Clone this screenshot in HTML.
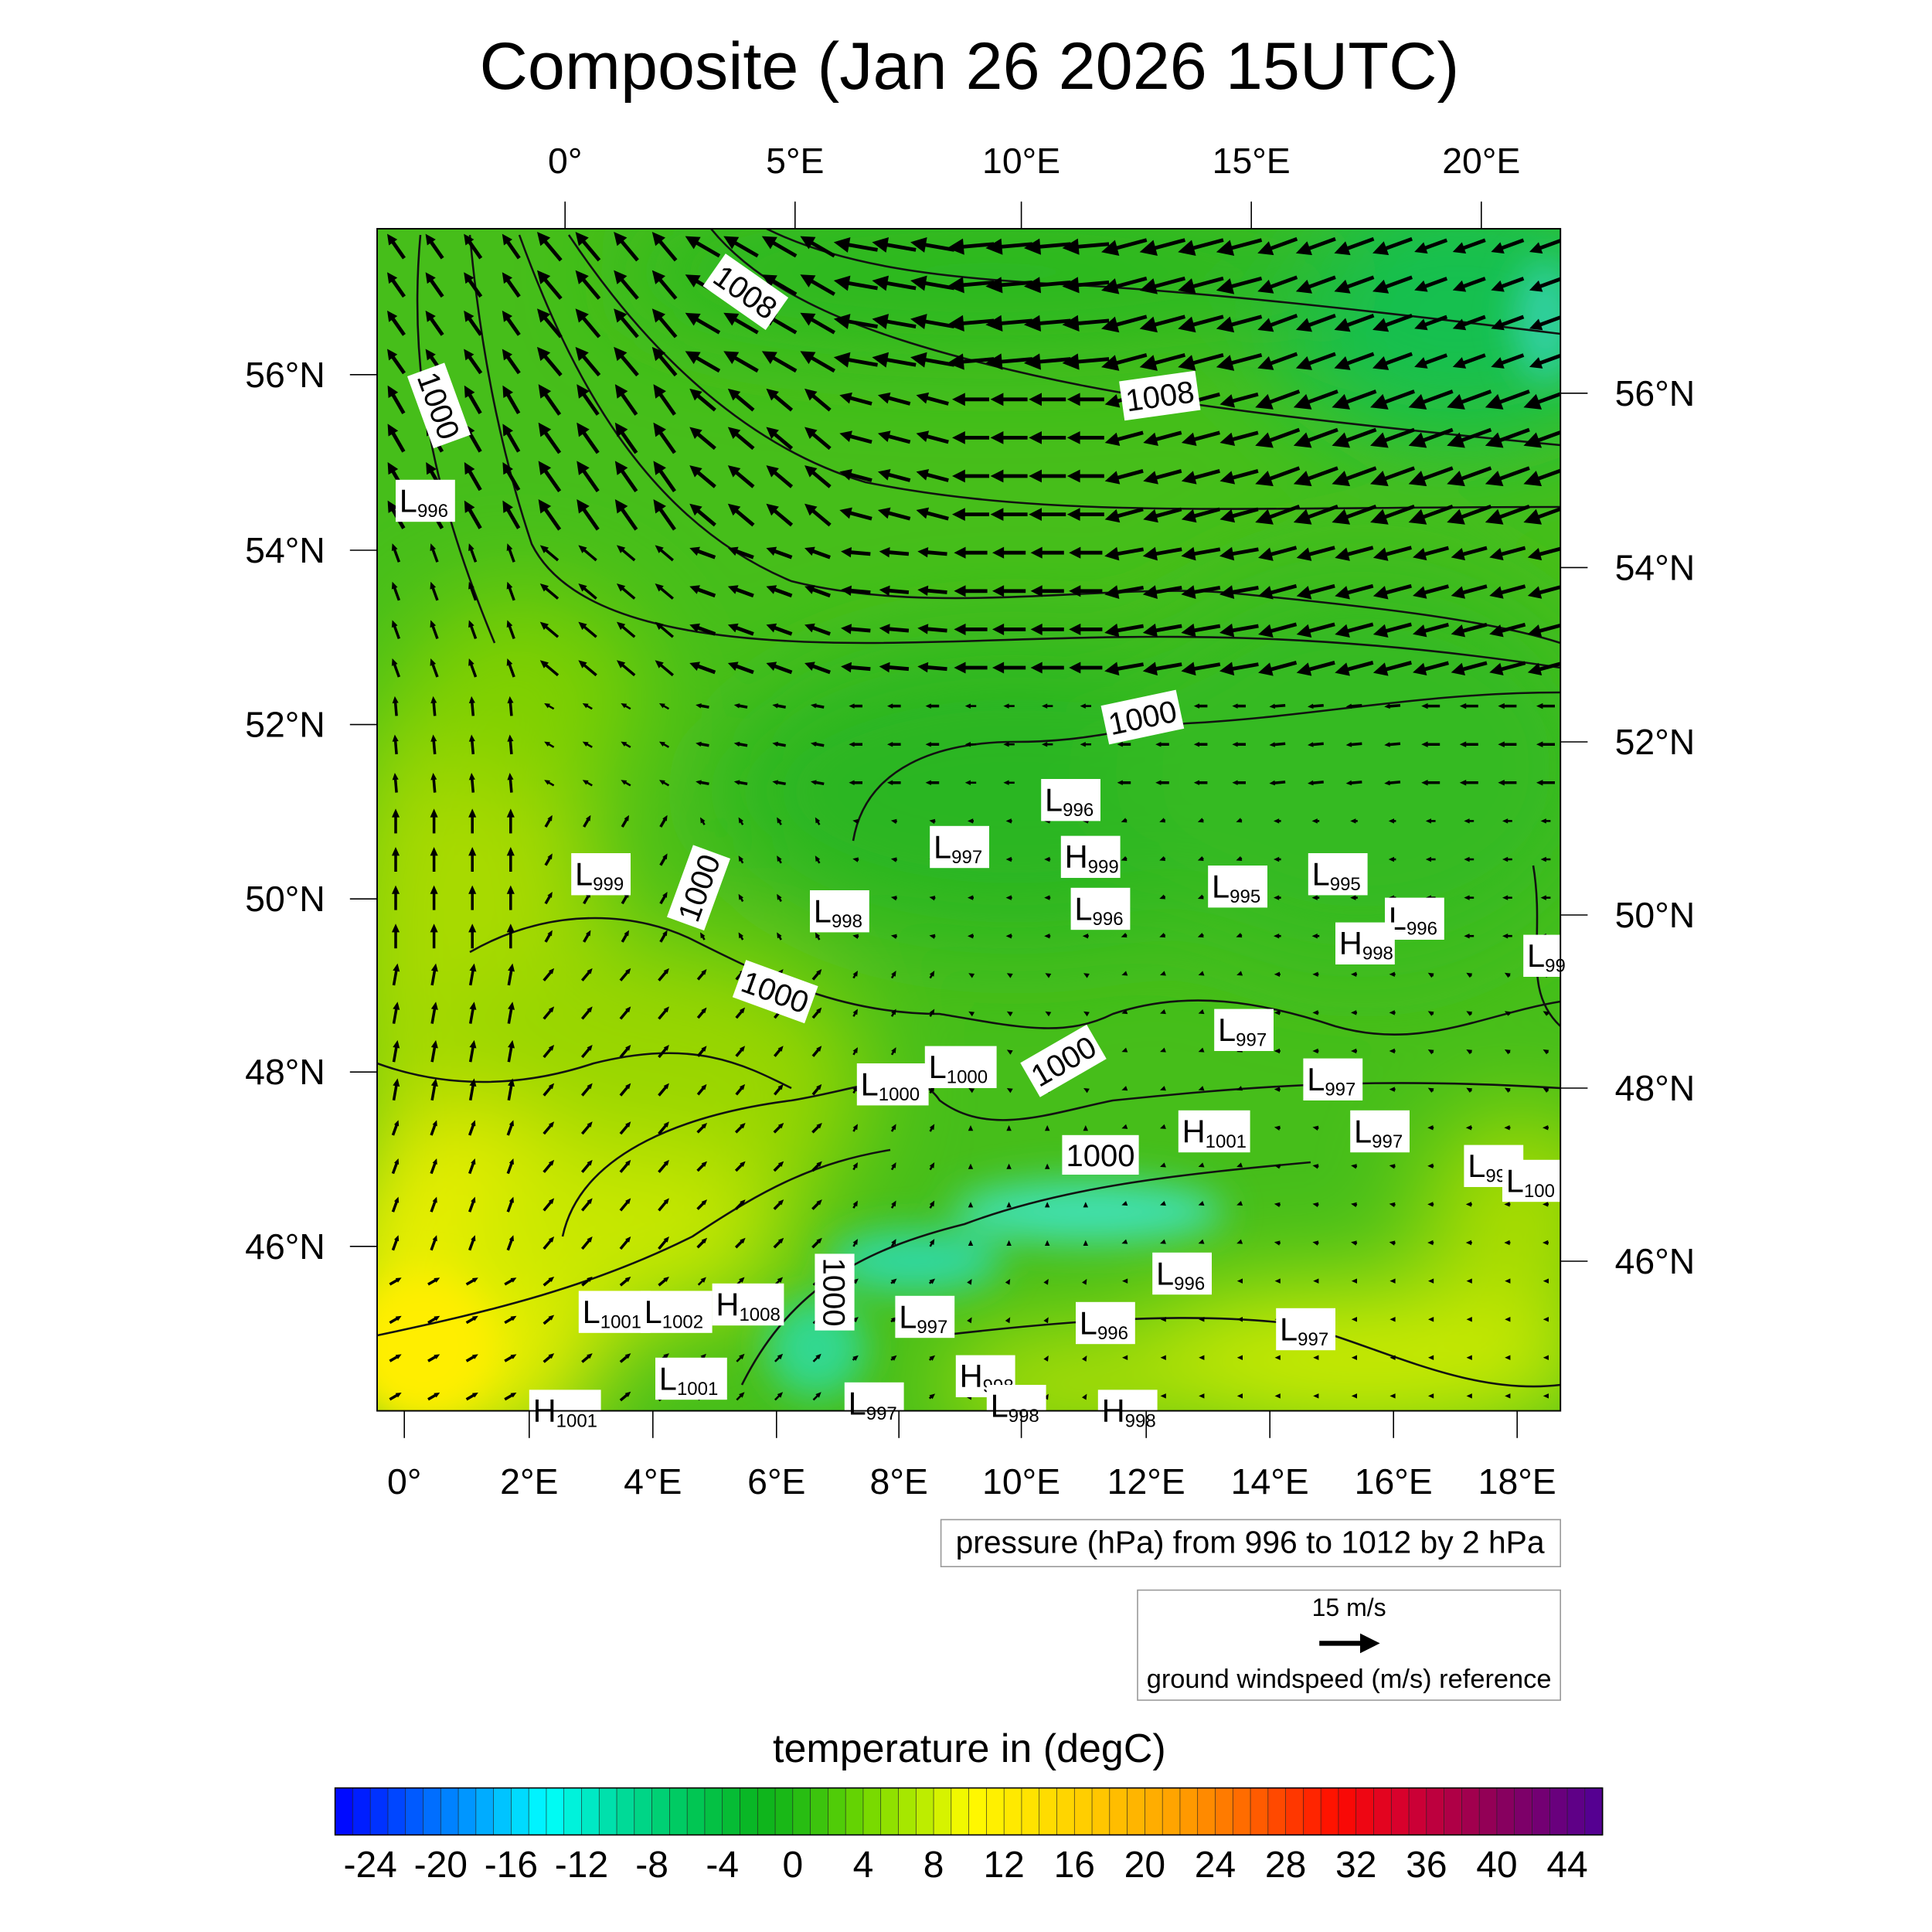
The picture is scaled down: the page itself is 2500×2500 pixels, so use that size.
<!DOCTYPE html>
<html><head><meta charset="utf-8"><style>
html,body{margin:0;padding:0;background:#fff;}
svg{display:block;font-family:"Liberation Sans",sans-serif;}
</style></head><body>
<svg id="fig" width="2500" height="2500" viewBox="0 0 1562.5 1562.5" xmlns="http://www.w3.org/2000/svg">
<defs>
<filter id="blur" x="-50%" y="-50%" width="200%" height="200%"><feGaussianBlur stdDeviation="40"/></filter>
<filter id="blur2" x="-50%" y="-50%" width="200%" height="200%"><feGaussianBlur stdDeviation="15"/></filter>
<clipPath id="plotclip"><rect x="305" y="185" width="957" height="956"/></clipPath>
</defs>
<text x="784" y="72" font-size="54" text-anchor="middle">Composite (Jan 26 2026 15UTC)</text>

<g clip-path="url(#plotclip)">
<rect x="305" y="185" width="957" height="956" fill="#46be1a"/>
<g filter="url(#blur)">
<ellipse cx="1180" cy="250" rx="160" ry="110" fill="#14c050"/>
<ellipse cx="800" cy="220" rx="300" ry="60" fill="#2cb824"/>
<ellipse cx="820" cy="640" rx="240" ry="120" fill="#2cb622"/>
<ellipse cx="1100" cy="620" rx="200" ry="160" fill="#34ba20"/>
<ellipse cx="380" cy="780" rx="110" ry="260" fill="#a8da00"/>
<ellipse cx="420" cy="560" rx="100" ry="80" fill="#80d000"/>
<ellipse cx="520" cy="880" rx="180" ry="120" fill="#98d600"/>
<ellipse cx="380" cy="1040" rx="120" ry="140" fill="#f0f000"/>
<ellipse cx="500" cy="1000" rx="140" ry="70" fill="#c8e800"/>
<ellipse cx="1100" cy="1100" rx="200" ry="60" fill="#d0ec00"/>
<ellipse cx="860" cy="1120" rx="100" ry="40" fill="#c0e400"/>
<ellipse cx="1230" cy="980" rx="80" ry="80" fill="#a8dc00"/>
</g>
<g filter="url(#blur2)">
<ellipse cx="340" cy="1090" rx="60" ry="60" fill="#ffee00"/>
<ellipse cx="880" cy="980" rx="110" ry="25" fill="#40e0b0"/>
<ellipse cx="740" cy="1020" rx="70" ry="25" fill="#30d8a0"/>
<ellipse cx="660" cy="1090" rx="40" ry="40" fill="#30d890"/>
<ellipse cx="1250" cy="260" rx="25" ry="50" fill="#30d0a0"/>
</g>
</g>

<g id="contours" clip-path="url(#plotclip)" fill="none" stroke="#111" stroke-width="1.6">
<path d="M575,185 C620,240 700,270 800,295 C900,320 1000,335 1262,360"/>
<path d="M620,185 C680,215 760,225 860,230 C960,235 1100,250 1262,270"/>
<path d="M420,190 C460,300 520,420 640,470 C760,500 900,470 1000,480 C1100,490 1200,500 1262,520"/>
<path d="M460,190 C520,280 600,360 700,390 C850,420 1000,410 1262,410"/>
<path d="M380,190 C390,300 410,380 430,440 C460,500 560,520 700,520 C850,520 1000,500 1262,540"/>
<path d="M340,190 C330,300 350,400 400,520"/>
<path d="M690,680 C700,620 760,600 820,600 C880,600 900,590 960,585 C1060,580 1150,560 1262,560"/>
<path d="M380,770 C450,730 520,740 560,760 C620,790 680,820 760,820 C820,830 860,840 900,820 C960,800 1020,810 1080,830 C1150,850 1200,820 1262,810"/>
<path d="M305,860 C360,880 420,880 480,860 C560,840 600,860 640,880"/>
<path d="M455,1000 C470,930 560,900 640,890 C700,880 740,860 760,890 C800,920 850,900 900,890 C1000,880 1100,870 1262,880"/>
<path d="M305,1080 C400,1060 480,1040 560,1000 C620,960 660,940 720,930"/>
<path d="M600,1120 C640,1040 700,1010 780,990 C860,960 950,950 1060,940"/>
<path d="M760,1080 C850,1070 950,1060 1040,1070 C1100,1080 1180,1130 1262,1120"/>
<path d="M1240,700 C1250,760 1230,800 1262,830"/>
</g>

<g id="arrows" clip-path="url(#plotclip)"></g>
<g id="hl"></g>
<g id="clabels"></g>

<rect x="305" y="185" width="957" height="956" fill="none" stroke="#000" stroke-width="1.2"/>
<g id="axes"></g>

<rect x="761" y="1229" width="501" height="38" fill="#fff" stroke="#999"/>
<text x="1011" y="1256" font-size="25.5" text-anchor="middle">pressure (hPa) from 996 to 1012 by 2 hPa</text>
<rect x="920" y="1286" width="342" height="89" fill="#fff" stroke="#999"/>
<text x="1091" y="1307" font-size="20" text-anchor="middle">15 m/s</text>
<line x1="1067" y1="1329" x2="1106" y2="1329" stroke="#000" stroke-width="4"/>
<path d="M1100,1321 L1116,1329 L1100,1337 z" fill="#000"/>
<text x="1091" y="1365" font-size="21.5" text-anchor="middle">ground windspeed (m/s) reference</text>

<text x="784" y="1425" font-size="32.5" text-anchor="middle">temperature in (degC)</text>
<g id="cbar"></g>
</svg>
<script>
const NS="http://www.w3.org/2000/svg";
function mk(tag,attrs,parent){const e=document.createElementNS(NS,tag);for(const k in attrs)e.setAttribute(k,attrs[k]);parent.appendChild(e);return e;}

// Wind field (coarse 8x8 cells): arrow angle (deg, 0=east, ccw) and length (px)
const windAngle=[
[125,130,150,170,185,195,200,200],
[120,125,140,165,180,195,200,200],
[110,140,160,175,180,190,195,195],
[95,150,170,180,180,180,185,180],
[90,60,120,170,180,200,180,180],
[80,50,50,60,150,200,180,150],
[70,50,45,60,90,200,170,180],
[30,40,45,40,60,180,180,180]];
const windLen=[
[24,30,32,36,38,38,34,28],
[26,30,27,27,30,32,38,38],
[16,19,22,24,27,32,32,30],
[16,9,11,11,9,11,13,15],
[20,11,7,5,5,5,6,8],
[18,13,11,7,4,4,5,5],
[13,13,11,7,4,4,5,5],
[11,11,9,6,4,3,4,4]];
const X0=305,Y0=185,W=957,H=956;
const ag=document.getElementById('arrows');
const step=31;
for(let y=Y0+14;y<Y0+H;y+=step){for(let x=X0+15;x<X0+W;x+=step){
 const r=Math.min(7,Math.floor((y-Y0)/(H/8))),c=Math.min(7,Math.floor((x-X0)/(W/8)));
 const a=windAngle[r][c]*Math.PI/180,L=windLen[r][c];
 const dx=Math.cos(a)*L/2,dy=-Math.sin(a)*L/2;
 const sw=L>20?3:(L>10?2.2:1.6);
 const hs=Math.max(4.5,L*0.35),ux=Math.cos(a),uy=-Math.sin(a);
 const tx=x+dx,ty=y+dy,bx=tx-ux*hs,by=ty-uy*hs;
 const ln=mk('line',{x1:x-dx,y1:y-dy,x2:bx+ux*1,y2:by+uy*1,stroke:'#000','stroke-width':sw},ag);
 
 
 const hw=hs*(L>20?0.5:0.45);
 mk('path',{d:`M${tx},${ty} L${bx-uy*hw},${by+ux*hw} L${bx+uy*hw},${by-ux*hw} z`,fill:'#000'},ag);
}}

// Pressure centers
const hlType=['L','L','L','L','H','L','L','L','L','L','H','L','L','L','L','L','H','L','L','L','L','L','L','L','L','L','H','L','H','L','H','L','H'];
const hlVal=['996','999','997','996','999','998','996','995','995','996','998','99','997','997','1000','1000','1001','997','999','100','996','997','996','997','1001','1002','1008','1001','998','997','1001','998','998'];
const hlX=[320,462,752,842,858,655,866,977,1058,1120,1080,1232,982,1054,693,748,953,1092,1184,1215,932,724,870,1032,468,518,576,530,773,683,428,798,888];
const hlY=[388,690,668,630,676,720,718,700,690,726,746,756,816,856,860,846,898,898,926,938,1013,1048,1053,1058,1044,1044,1038,1098,1096,1118,1124,1120,1124];
const hg=document.getElementById('hl');
for(let i=0;i<hlType.length;i++){
 const w=hlVal[i].length>3?58:48;
 const g=mk('g',{},hg);
 
 
 mk('rect',{x:hlX[i],y:hlY[i],width:w,height:34,fill:'#fff'},g);
 const t=mk('text',{x:hlX[i]+3,y:hlY[i]+26,'font-size':26},g);
 t.textContent=hlType[i];
 const s=mk('tspan',{'font-size':15,dy:4},t);s.textContent=hlVal[i];
}

// Contour labels
const clText=['1008','1000','1008','1000','1000','1000','1000','1000','1000'];
const clX=[603,355,938,924,565,627,860,890,675];
const clY=[236,328,320,580,718,802,858,934,1045];
const clRot=[35,70,-8,-12,-70,20,-30,0,90];
const cg=document.getElementById('clabels');
for(let i=0;i<clText.length;i++){
 const g=mk('g',{transform:`translate(${clX[i]},${clY[i]}) rotate(${clRot[i]})`},cg);
 
 
 mk('rect',{x:-31,y:-16,width:62,height:32,fill:'#fff'},g);
 const t=mk('text',{x:0,y:9,'font-size':25,'text-anchor':'middle'},g);t.textContent=clText[i];
}

// Axes
const ax=document.getElementById('axes');
const leftLab=['56°N','54°N','52°N','50°N','48°N','46°N'];
const leftY=[303,445,586,727,867,1008];
const rightY=[318,459,600,740,880,1020];
const topLab=['0°','5°E','10°E','15°E','20°E'];
const topX=[457,643,826,1012,1198];
const botLab=['0°','2°E','4°E','6°E','8°E','10°E','12°E','14°E','16°E','18°E'];
const botX=[327,428,528,628,727,826,927,1027,1127,1227];
function lab(txt,x,y,anchor,name){const t=mk('text',{x:x,y:y,'font-size':29,'text-anchor':anchor},ax);t.textContent=txt;}
leftLab.forEach((l,i)=>{mk('line',{x1:283,y1:leftY[i],x2:305,y2:leftY[i],stroke:'#000'},ax);lab(l,263,leftY[i]+10,'end','left-lat-label');
 mk('line',{x1:1262,y1:rightY[i],x2:1284,y2:rightY[i],stroke:'#000'},ax);lab(l,1306,rightY[i]+10,'start','right-lat-label');});
topLab.forEach((l,i)=>{mk('line',{x1:topX[i],y1:163,x2:topX[i],y2:185,stroke:'#000'},ax);lab(l,topX[i],140,'middle','top-lon-label');});
botLab.forEach((l,i)=>{mk('line',{x1:botX[i],y1:1141,x2:botX[i],y2:1163,stroke:'#000'},ax);lab(l,botX[i],1208,'middle','bottom-lon-label');});

// Colorbar
const cbStops=[[-26,[0,0,255]],[-22,[0,80,255]],[-18,[0,160,255]],[-14,[0,255,255]],[-10,[0,220,160]],[-6,[0,200,90]],[-2,[10,180,30]],[0,[30,185,20]],[4,[110,215,0]],[8,[200,240,0]],[10,[255,250,0]],[16,[255,210,0]],[22,[255,160,0]],[26,[255,100,0]],[31,[255,10,0]],[35,[210,0,50]],[40,[140,0,90]],[46,[80,0,150]]];
const cbTicks=[-24,-20,-16,-12,-8,-4,0,4,8,12,16,20,24,28,32,36,40,44];
const cbMin=-26,cbMax=46;
const cb=document.getElementById('cbar');
const CX0=271,CX1=1296,CY=1446,CH=38;
const sx=v=>CX0+(v-cbMin)/(cbMax-cbMin)*(CX1-CX0);
function col(v){for(let i=0;i<cbStops.length-1;i++){const[a,ca]=cbStops[i],[b,cb2]=cbStops[i+1];if(v>=a&&v<=b){const f=(v-a)/(b-a);return`rgb(${ca.map((c,k)=>Math.round(c+(cb2[k]-c)*f)).join(',')})`;}}return'rgb(80,0,150)';}
for(let v=cbMin;v<cbMax;v++){const r=mk('rect',{x:sx(v),y:CY,width:sx(v+1)-sx(v)+0.3,height:CH,fill:col(v+0.5),stroke:'#222','stroke-width':0.4},cb);
 
 }
mk('rect',{x:CX0,y:CY,width:CX1-CX0,height:CH,fill:'none',stroke:'#000','stroke-width':1},cb);
cbTicks.forEach(v=>{const t=mk('text',{x:sx(v),y:1518,'font-size':30,'text-anchor':'middle'},cb);t.textContent=v;
 
 });
</script>
</body></html>
